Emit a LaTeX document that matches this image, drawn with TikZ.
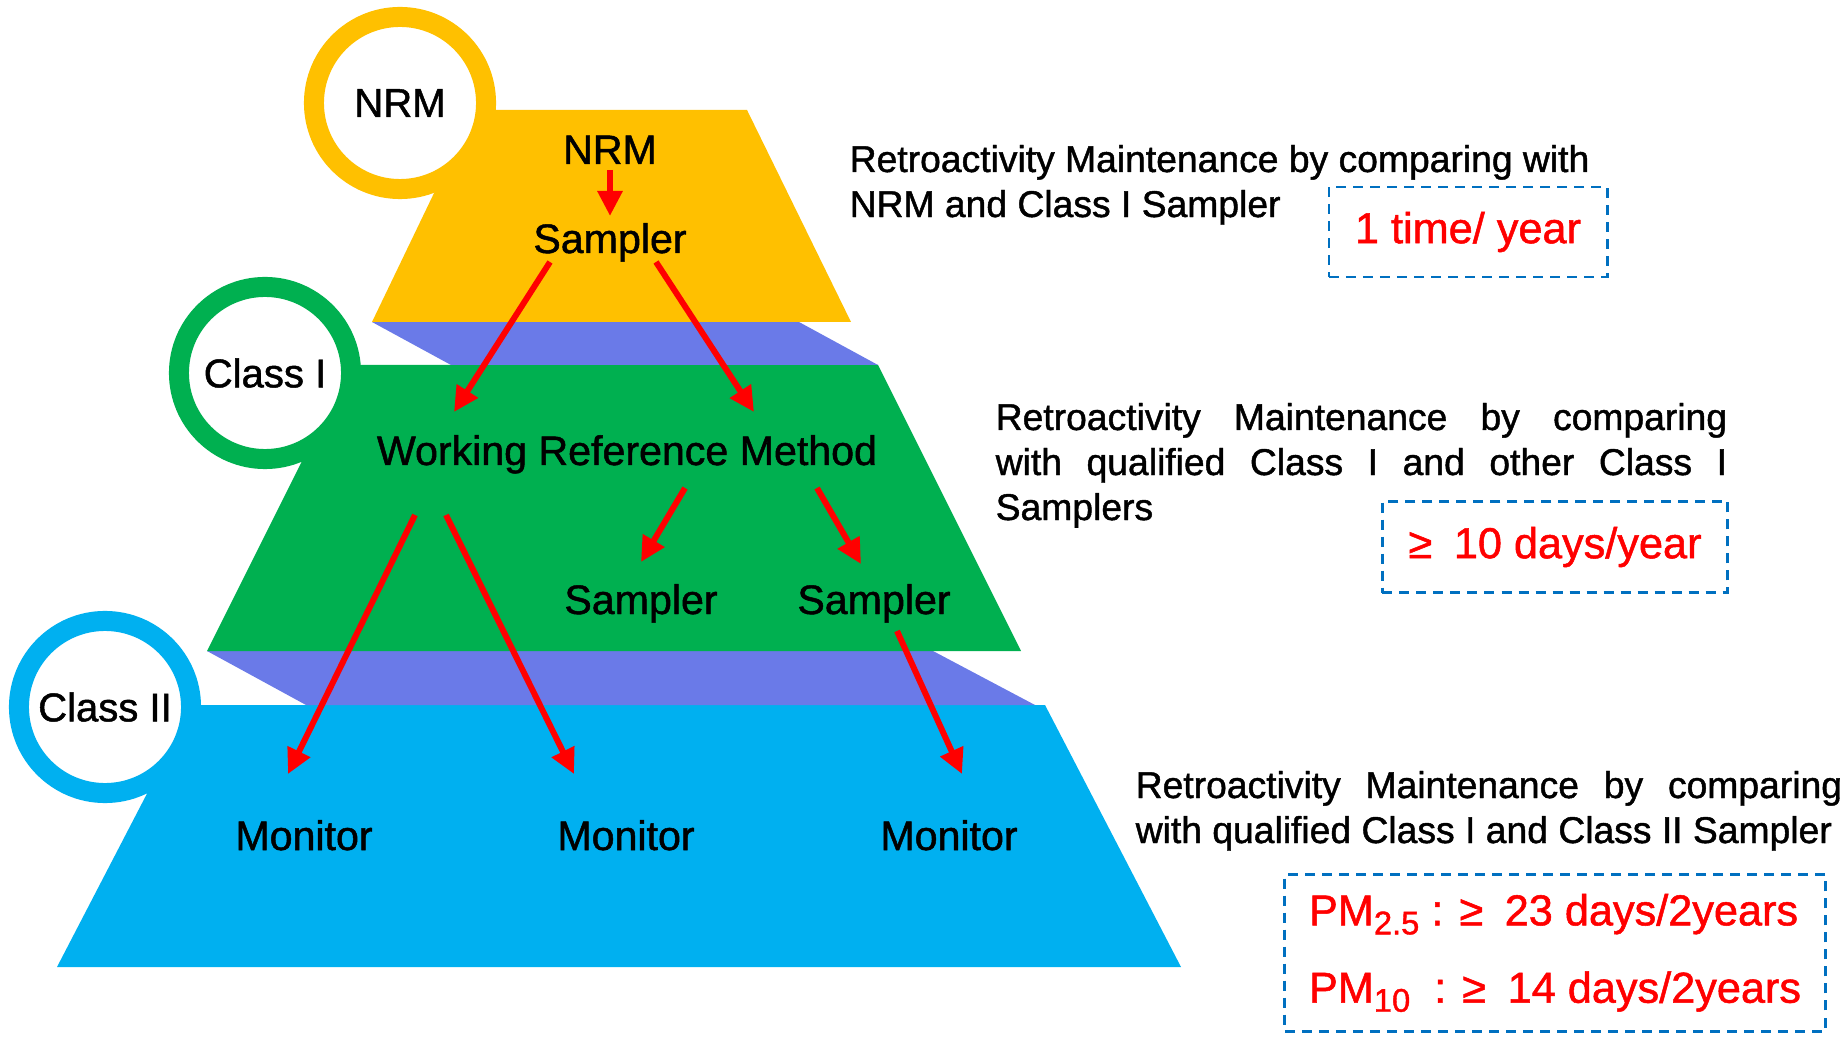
\documentclass[tikz,border=0pt]{standalone}
\usepackage{fontspec}
\setmainfont{Liberation Sans}[FakeBold=1.2]
\usetikzlibrary{arrows.meta}
\definecolor{pyrYellow}{HTML}{FFC000}
\definecolor{pyrGreen}{HTML}{00B050}
\definecolor{pyrCyan}{HTML}{00B0F0}
\definecolor{pyrBand}{HTML}{6A7AE8}
\definecolor{boxBlue}{HTML}{0070C0}
\definecolor{arrowRed}{HTML}{FF0000}
\newcommand\pmsub[1]{\raisebox{-0.09cm}{\fontsize{9.3}{10}\selectfont #1}}
\newcommand\gesp{\hspace{0.5em}}
\begin{document}
\begin{tikzpicture}[x=0.01cm,y=-0.01cm,
  ring/.style={circle, fill=white, line width=0.2cm, minimum size=1.72cm, inner sep=0pt,
    font=\fontsize{11.4}{14}\selectfont},
  lbl/.style={inner sep=0pt, font=\fontsize{11.7}{14}\selectfont},
  desc/.style={inner sep=0pt, anchor=base west, font=\fontsize{10.6}{12.8}\selectfont},
  dbox/.style={draw=boxBlue, line width=0.8pt, dash pattern=on 0.1cm off 0.07cm,
    text=arrowRed, inner sep=0pt, font=\fontsize{12.3}{15}\selectfont},
  redarrow/.style={draw=arrowRed, line width=1.7pt,
    -{Triangle[length=0.25cm,width=0.24cm]}}
]
\useasboundingbox (0,0) rectangle (1846,1037);

% pyramid layers
\fill[pyrCyan] (193,705) -- (1045,705) -- (1181,967) -- (57,967) -- cycle;
\fill[pyrBand] (207,651) -- (933,651) -- (1035,705) -- (306,705) -- cycle;
\fill[pyrGreen] (350,365) -- (878,365) -- (1021,651) -- (207,651) -- cycle;
\fill[pyrBand] (372,322) -- (799,322) -- (878,365) -- (451,365) -- cycle;
\fill[pyrYellow] (474,110) -- (747,110) -- (851,322) -- (372,322) -- cycle;

% rings
\node[ring, draw=pyrYellow] (ringNRM) at (400,103) {NRM};
\node[ring, draw=pyrGreen] (ringC1) at (265,373) {Class I};
\node[ring, draw=pyrCyan] (ringC2) at (105,707) {Class II};

% pyramid labels
\node[lbl, anchor=base] (tNRM) at (610,164) {NRM};
\node[lbl, anchor=base] (tS0) at (610,253) {Sampler};
\node[lbl, anchor=base] (tWRM) at (627,465) {Working Reference Method};
\node[lbl, anchor=base] (tS1) at (641,614) {Sampler};
\node[lbl, anchor=base] (tS2) at (874,614) {Sampler};
\node[lbl, anchor=base] (tM1) at (304,850) {Monitor};
\node[lbl, anchor=base] (tM2) at (626,850) {Monitor};
\node[lbl, anchor=base] (tM3) at (949,850) {Monitor};

% arrow end points
\coordinate (a1s) at (610,170); \coordinate (a1e) at (610,216);
\coordinate (a2s) at (550,262); \coordinate (a2e) at (454,412);
\coordinate (a3s) at (656,262); \coordinate (a3e) at (754,412);
\coordinate (a4s) at (415,515); \coordinate (a4e) at (288,774);
\coordinate (a5s) at (446,515); \coordinate (a5e) at (574,774);
\coordinate (a6s) at (685,488); \coordinate (a6e) at (641,562);
\coordinate (a7s) at (817,488); \coordinate (a7e) at (861,564);
\coordinate (a8s) at (897,631); \coordinate (a8e) at (962,774);

\draw[redarrow] (a1s) -- (a1e);
\draw[redarrow] (a2s) -- (a2e);
\draw[redarrow] (a3s) -- (a3e);
\draw[redarrow] (a4s) -- (a4e);
\draw[redarrow] (a5s) -- (a5e);
\draw[redarrow] (a6s) -- (a6e);
\draw[redarrow] (a7s) -- (a7e);
\draw[redarrow] (a8s) -- (a8e);

% descriptions
\node[desc] (d1) at (849,172) {\parbox[t]{8cm}{Retroactivity Maintenance by comparing with\\NRM and Class I Sampler}};
\node[desc] (d2) at (995,430) {\parbox[t]{7.31cm}{Retroactivity Maintenance by comparing\linebreak with qualified Class I and other Class I\linebreak Samplers}};
\node[desc] (d3) at (1135,798) {\parbox[t]{7.06cm}{Retroactivity Maintenance by comparing\linebreak with qualified Class I and Class II Sampler}};

% dashed boxes
\node[dbox, minimum width=2.78cm, minimum height=0.9cm] (b1) at (1468,232) {1 time/ year};
\node[dbox, minimum width=3.45cm, minimum height=0.91cm] (b2) at (1555,547) {≥\gesp 10 days/year};
\node[dbox, minimum width=5.4cm, minimum height=1.57cm, align=left] (b3) at (1555,953)
  {PM\pmsub{2.5} : ≥\gesp 23 days/2years\\[7pt]PM\pmsub{10}\ \ : ≥\gesp 14 days/2years};
\end{tikzpicture}
\end{document}
